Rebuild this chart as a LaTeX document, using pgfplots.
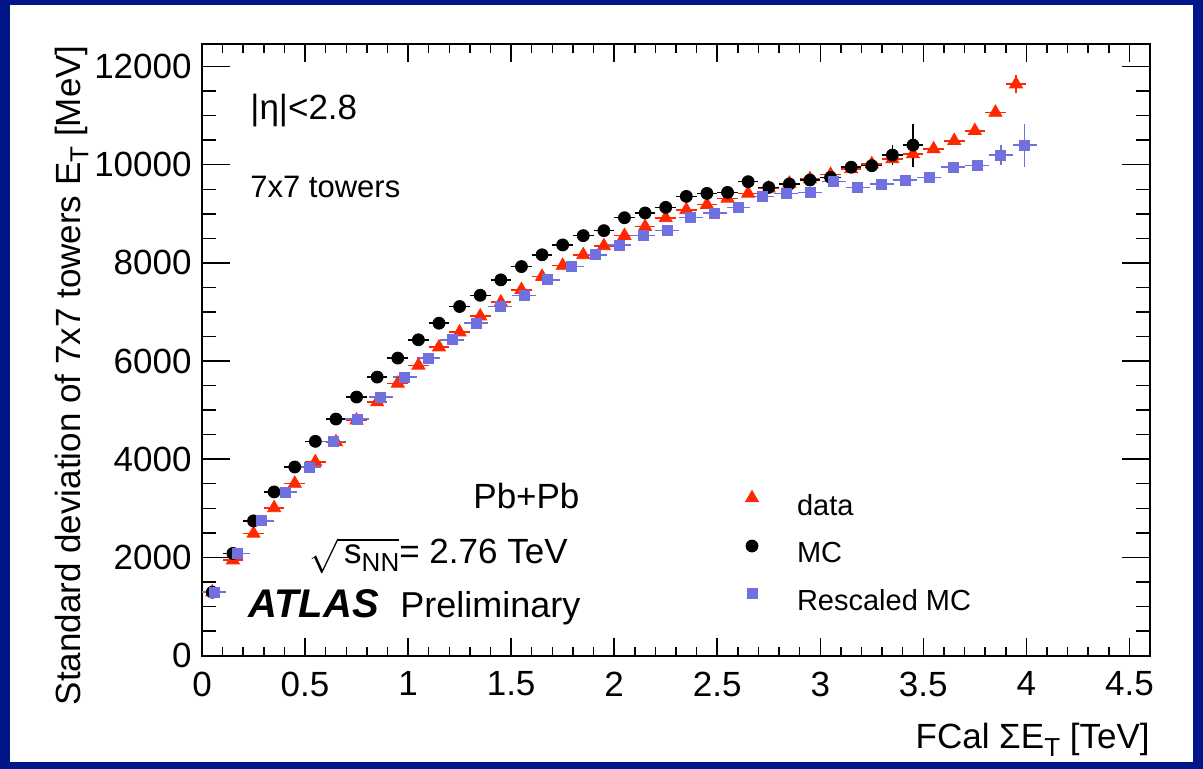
\documentclass[border=0pt]{standalone}
\usepackage{fontspec}
\setmainfont{Liberation Sans}
\usepackage{pgfplots}
\usepackage{pgfplotstable}
\pgfplotsset{compat=1.18}
\definecolor{navy}{RGB}{2,22,138}
\definecolor{dred}{RGB}{255,40,0}
\definecolor{rblue}{RGB}{112,112,224}

\pgfplotstableread{
x y ex ey
0.05 1290 0.05 40
0.15 1943 0.05 40
0.25 2486 0.05 40
0.35 3007 0.05 40
0.45 3504 0.05 40
0.55 3943 0.05 40
0.65 4350 0.05 40
0.75 4792 0.05 40
0.85 5164 0.05 40
0.95 5545 0.05 40
1.05 5911 0.05 40
1.15 6283 0.05 40
1.25 6588 0.05 40
1.35 6914 0.05 40
1.45 7198 0.05 40
1.55 7451 0.05 40
1.65 7721 0.05 40
1.75 7945 0.05 40
1.85 8162 0.05 40
1.95 8345 0.05 40
2.05 8555 0.05 40
2.15 8738 0.05 40
2.25 8915 0.05 40
2.35 9078 0.05 40
2.45 9186 0.05 40
2.55 9314 0.05 40
2.65 9416 0.05 40
2.75 9520 0.05 40
2.85 9620 0.05 40
2.95 9710 0.05 40
3.05 9800 0.05 40
3.15 9912 0.05 40
3.25 10014 0.05 40
3.35 10115 0.05 40
3.45 10217 0.05 40
3.55 10319 0.05 40
3.65 10488 0.05 50
3.75 10692 0.05 60
3.85 11064 0.05 80
3.95 11642 0.05 180
}\datatab

\pgfplotstableread{
x y ex ey
0.05 1290 0.05 40
0.15 2080 0.05 40
0.25 2743 0.05 40
0.35 3333 0.05 40
0.45 3841 0.05 40
0.55 4364 0.05 40
0.65 4818 0.05 40
0.75 5266 0.05 40
0.85 5673 0.05 40
0.95 6060 0.05 40
1.05 6433 0.05 40
1.15 6771 0.05 40
1.25 7111 0.05 40
1.35 7340 0.05 40
1.45 7654 0.05 40
1.55 7925 0.05 40
1.65 8165 0.05 40
1.75 8366 0.05 40
1.85 8555 0.05 40
1.95 8657 0.05 40
2.05 8920 0.05 40
2.15 9017 0.05 40
2.25 9131 0.05 40
2.35 9355 0.05 40
2.45 9416 0.05 40
2.55 9436 0.05 40
2.65 9654 0.05 40
2.75 9538 0.05 40
2.85 9607 0.05 40
2.95 9688 0.05 40
3.05 9742 0.05 50
3.15 9950 0.05 60
3.25 9980 0.05 80
3.35 10197 0.05 200
3.45 10400 0.05 440
}\mctab

\pgfplotstableread{
x y ex ey
0.0579 1290 0.0579 40
0.1736 2080 0.0579 40
0.2893 2743 0.0579 40
0.4050 3333 0.0579 40
0.5207 3841 0.0579 40
0.6364 4364 0.0579 40
0.7520 4818 0.0579 40
0.8678 5266 0.0579 40
0.9835 5673 0.0579 40
1.0992 6060 0.0579 40
1.2149 6433 0.0579 40
1.3306 6771 0.0579 40
1.4463 7111 0.0579 40
1.5620 7340 0.0579 40
1.6777 7654 0.0579 40
1.7934 7925 0.0579 40
1.9090 8165 0.0579 40
2.0248 8366 0.0579 40
2.1405 8555 0.0579 40
2.2562 8657 0.0579 40
2.3719 8920 0.0579 40
2.4876 9017 0.0579 40
2.6033 9131 0.0579 40
2.7190 9355 0.0579 40
2.8347 9416 0.0579 40
2.9504 9436 0.0579 40
3.0660 9654 0.0579 40
3.1818 9538 0.0579 40
3.2975 9607 0.0579 40
3.4132 9688 0.0579 40
3.5289 9742 0.0579 50
3.6446 9950 0.0579 60
3.7603 9980 0.0579 80
3.8760 10197 0.0579 200
3.9917 10400 0.0579 440
}\rmctab

\pgfplotsset{
  frame/.style={
    at={(101pt,-327.75pt)}, anchor=south west,
    scale only axis, width=474pt, height=305.5pt,
    xmin=0, xmax=4.6, ymin=0, ymax=12450,
    scaled x ticks=false, scaled y ticks=false,
    tick align=inside,
    axis line style={line width=1pt},
    every tick/.append style={line width=0.75pt, black},
    ticklabel style={font=\fontsize{17.5}{19}\selectfont, inner sep=0pt},
    /pgf/number format/assume math mode=true,
  }
}

\begin{document}
\begin{tikzpicture}
\fill[navy] (0,0) rectangle (601.5pt,-384.5pt);
\fill[white] (5pt,-2.5pt) rectangle (596.5pt,-381pt);
% y ticks (longer) and y tick labels
\begin{axis}[frame,
  xtick=\empty,
  ytick={0,2000,4000,6000,8000,10000,12000},
  yticklabels={0,2000,4000,6000,8000,10000,12000},
  minor y tick num=3,
  major tick length=14pt, minor tick length=7pt,
  yticklabel style={anchor=east, xshift=-5pt},
]
\end{axis}
% x ticks, data and legend
\begin{axis}[frame,
  ytick=\empty,
  xtick={0,0.5,...,4.5},
  xticklabels={0,0.5,1,1.5,2,2.5,3,3.5,4,4.5},
  minor x tick num=4,
  major tick length=9pt, minor tick length=4.5pt,
  xticklabel style={anchor=north, yshift=-8pt},
  legend style={draw=none, fill=none, at={(0.5633,0.2774)}, anchor=north west,
    inner sep=0pt, outer sep=0pt, row sep=8pt, column sep=14.5pt,
    font=\fontsize{14.5}{16}\selectfont, nodes={inner sep=0pt}},
  legend cell align=left,
  legend image code/.code={\path[draw=none, fill=none] (-8pt,-2pt) rectangle (8pt,10pt); \draw[#1] plot coordinates {(0pt,4pt)};},
  error bars/error bar style={line width=0.75pt},
]
\addplot[only marks, mark=triangle*, mark size=3.75pt, color=dred,
  error bars/.cd, x dir=both, x explicit, y dir=both, y explicit, error mark=none]
  table[x=x, y=y, x error=ex, y error=ey] {\datatab};
\addlegendentry{data}
\addplot[only marks, mark=*, mark size=3pt, color=black,
  error bars/.cd, x dir=both, x explicit, y dir=both, y explicit, error mark=none]
  table[x=x, y=y, x error=ex, y error=ey] {\mctab};
\addlegendentry{MC}
\addplot[only marks, mark=square*, mark size=2.5pt, color=rblue,
  error bars/.cd, x dir=both, x explicit, y dir=both, y explicit, error mark=none]
  table[x=x, y=y, x error=ex, y error=ey] {\rmctab};
\addlegendentry{Rescaled MC}
\end{axis}
\begin{scope}[x=0.5pt, y=-0.5pt, every node/.style={inner sep=0pt, font=\fontsize{17.5}{19}\selectfont}]
\node[anchor=base west] at (250,120) {|η|<2.8};
\node[anchor=base west, font=\fontsize{15.5}{17}\selectfont] at (250,198) {7x7 towers};
\node[anchor=base west] at (473,508) {Pb+Pb};
\node[anchor=base east] at (568,563) {$\sqrt{\mbox{\,s\raisebox{-0.45ex}{\fontsize{13}{14}\selectfont NN}}}$= 2.76 TeV};
\node[anchor=base west, font=\fontsize{20}{22}\selectfont] at (248,617) {\textbf{\textit{ATLAS}}};
\node[anchor=base west, font=\fontsize{18}{20}\selectfont] at (400,617) {Preliminary};
\node[anchor=base east] at (1150,748) {FCal ΣE\raisebox{-0.45ex}{\fontsize{13}{14}\selectfont T} [TeV]};
\node[anchor=base east, rotate=90] at (80,45) {Standard deviation of 7x7 towers E\raisebox{-0.45ex}{\fontsize{13}{14}\selectfont T} [MeV]};
\end{scope}
\end{tikzpicture}
\end{document}
